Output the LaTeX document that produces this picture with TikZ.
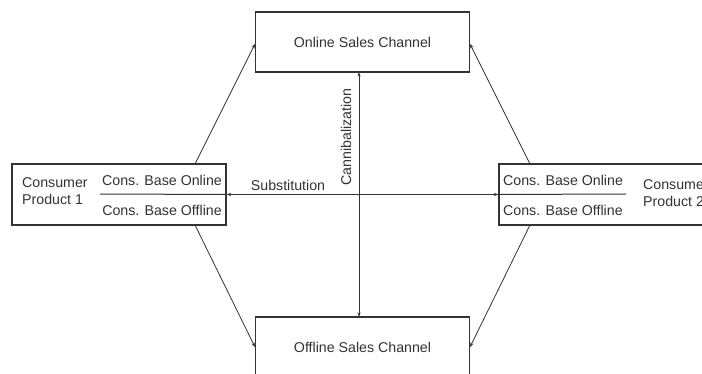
\documentclass[tikz,border=0pt]{standalone}
\usepackage{fontspec}
\setmainfont{Liberation Sans}
\usetikzlibrary{arrows.meta,calc}
\definecolor{ink}{HTML}{333333}
\begin{document}
\begin{tikzpicture}[x=1pt,y=-1pt,
  every node/.style={font=\fontsize{14.2}{16.5}\selectfont, text=ink, inner sep=0pt},
  bigbox/.style={draw=ink, line width=1.1pt, minimum width=214pt, minimum height=61pt},
  conn/.style={draw=ink, line width=0.8pt, -{Stealth[length=4.5pt,width=3.2pt]}},
  biconn/.style={draw=ink, line width=0.8pt, {Stealth[length=4.5pt,width=3.2pt]}-{Stealth[length=4.5pt,width=3.2pt]}},
  divider/.style={draw=ink, line width=1pt}]
\useasboundingbox (0,0) rectangle (702,374);
\clip (0,0) rectangle (702,374);
\fill[white] (0,0) rectangle (702,374);
% boxes
\node[bigbox, minimum height=60pt] (tb) at (362.5,42) {Online Sales Channel};
\node[bigbox, minimum height=60pt] (bb) at (362.5,347) {Offline Sales Channel};
\node[bigbox] (lb) at (119,194.5) {};
\node[bigbox] (rb) at (606,194.5) {};
% inner texts left
\node[align=left, anchor=west] (cp1) at (22,191) {Consumer\\Product 1};
\node (lon) at (162,180) {Cons. Base Online};
\node (loff) at (162,210) {Cons. Base Offline};
\coordinate (ld) at (100,194);
\draw[divider] (ld) -- (lb.east);
% inner texts right
\node[align=left, anchor=west] (cp2) at (643,193) {Consumer\\Product 2};
\node[anchor=west] (ron) at (503,180) {Cons. Base Online};
\node[anchor=west] (roff) at (503,210) {Cons. Base Offline};
\coordinate (rd) at (626,194);
\draw[divider] (rb.west) -- (rd);
% diagonal connectors
\coordinate (lt) at (195,164);
\coordinate (lbt) at (195,225);
\coordinate (rt) at (530,164);
\coordinate (rbt) at (530,225);
\coordinate (tl) at (255,44);
\coordinate (tr) at (470,44);
\draw[conn] (lt) -- (tl);
\draw[conn] (rt) -- (tr);
\draw[conn] (lbt) -- (bb.west);
\draw[conn] (rbt) -- (bb.east);
% central connectors
\coordinate (vt) at (359,72);
\coordinate (vb) at (359,317);
\draw[biconn] (vt) -- (vb);
\draw[biconn] (lb.east) -- (rb.west);
\node (sub) at (288,185) {Substitution};
\node[rotate=90] (can) at (346,137) {Cannibalization};
\end{tikzpicture}
\end{document}
